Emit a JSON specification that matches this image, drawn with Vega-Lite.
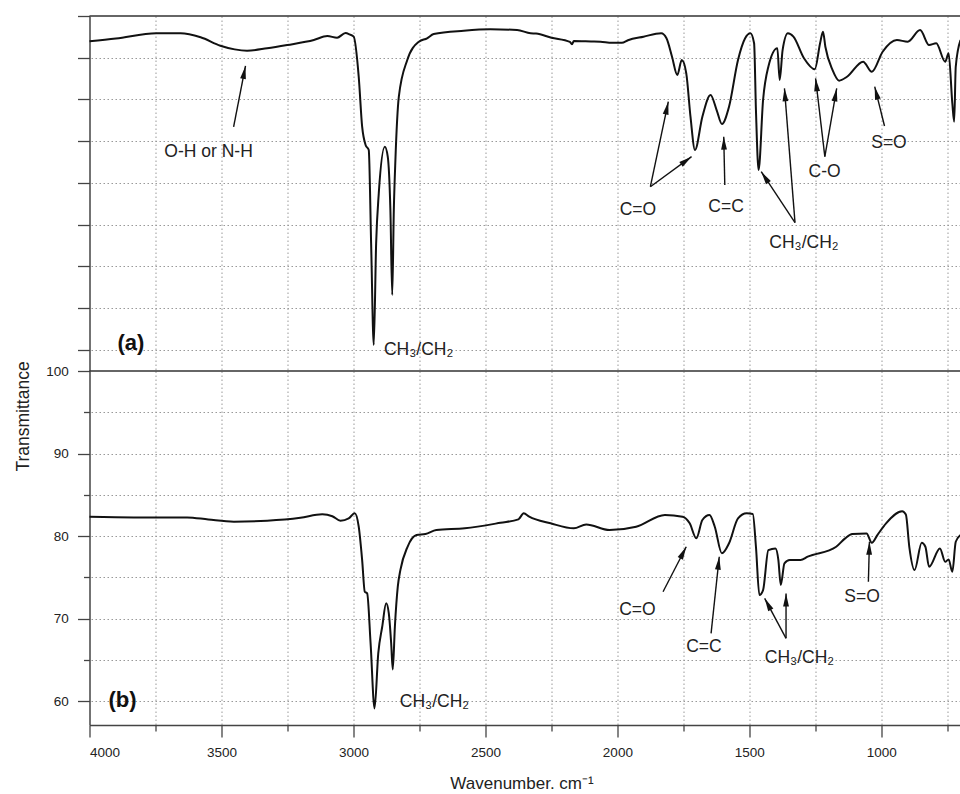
{
  "$schema": "https://vega.github.io/schema/vega-lite/v6.json",
  "background": "white",
  "padding": {"left": 14.5, "top": 15, "right": 0, "bottom": 0},
  "bounds": "flush",
  "spacing": 0,
  "config": {
    "font": "Liberation Sans",
    "view": {"stroke": null},
    "axis": {
      "domainColor": "#444",
      "domainWidth": 1.5,
      "tickColor": "#444",
      "tickWidth": 1.3,
      "gridColor": "#999",
      "gridDash": [1.5, 2.5],
      "gridWidth": 1,
      "labelColor": "#222",
      "labelFontSize": 13.5,
      "labelFont": "Liberation Sans",
      "titleFont": "Liberation Sans",
      "titleColor": "#222",
      "titleFontWeight": "normal"
    }
  },
  "datasets": {
    "specA": [
      {"wn": 4000, "t": 96.97}, {"wn": 3900, "t": 97.3}, {"wn": 3747, "t": 97.93}, {"wn": 3655, "t": 97.93},
      {"wn": 3579, "t": 97.45}, {"wn": 3504, "t": 96.44}, {"wn": 3450, "t": 96.0}, {"wn": 3403, "t": 95.84},
      {"wn": 3327, "t": 96.13}, {"wn": 3251, "t": 96.52}, {"wn": 3150, "t": 97.12}, {"wn": 3099, "t": 97.6},
      {"wn": 3062, "t": 97.4}, {"wn": 3030, "t": 97.95}, {"wn": 3015, "t": 97.8}, {"wn": 2999, "t": 97.52},
      {"wn": 2980, "t": 92.72}, {"wn": 2967, "t": 86.73}, {"wn": 2954, "t": 84.54}, {"wn": 2942, "t": 83.94},
      {"wn": 2933, "t": 72.75}, {"wn": 2923, "t": 60.57}, {"wn": 2914, "t": 72.75}, {"wn": 2904, "t": 78.75},
      {"wn": 2881, "t": 84.33}, {"wn": 2870, "t": 83.14}, {"wn": 2860, "t": 76.75}, {"wn": 2853, "t": 66.56},
      {"wn": 2847, "t": 76.75}, {"wn": 2841, "t": 82.74}, {"wn": 2828, "t": 90.33}, {"wn": 2796, "t": 94.73},
      {"wn": 2752, "t": 96.92}, {"wn": 2721, "t": 97.33}, {"wn": 2696, "t": 97.84}, {"wn": 2582, "t": 98.24},
      {"wn": 2481, "t": 98.41}, {"wn": 2380, "t": 98.32}, {"wn": 2329, "t": 97.93}, {"wn": 2308, "t": 97.9},
      {"wn": 2250, "t": 97.4}, {"wn": 2180, "t": 96.9}, {"wn": 2172, "t": 96.6}, {"wn": 2165, "t": 97.0},
      {"wn": 2100, "t": 96.95}, {"wn": 2064, "t": 96.92}, {"wn": 2020, "t": 96.8}, {"wn": 1983, "t": 96.8},
      {"wn": 1960, "t": 97.1}, {"wn": 1901, "t": 97.52}, {"wn": 1834, "t": 97.93}, {"wn": 1814, "t": 97.33},
      {"wn": 1793, "t": 95.12}, {"wn": 1773, "t": 92.93}, {"wn": 1756, "t": 94.73}, {"wn": 1739, "t": 93.13},
      {"wn": 1723, "t": 87.93}, {"wn": 1706, "t": 83.94}, {"wn": 1678, "t": 87.93}, {"wn": 1647, "t": 90.53},
      {"wn": 1624, "t": 88.73}, {"wn": 1604, "t": 87.06}, {"wn": 1577, "t": 89.13}, {"wn": 1543, "t": 94.73},
      {"wn": 1516, "t": 97.33}, {"wn": 1496, "t": 97.93}, {"wn": 1482, "t": 96.73}, {"wn": 1475, "t": 88.73},
      {"wn": 1465, "t": 81.54}, {"wn": 1448, "t": 89.93}, {"wn": 1428, "t": 93.92}, {"wn": 1394, "t": 96.13},
      {"wn": 1385, "t": 92.33}, {"wn": 1374, "t": 95.92}, {"wn": 1354, "t": 97.93}, {"wn": 1333, "t": 97.52},
      {"wn": 1293, "t": 94.93}, {"wn": 1252, "t": 93.61}, {"wn": 1232, "t": 96.73}, {"wn": 1221, "t": 98.12},
      {"wn": 1212, "t": 96.32}, {"wn": 1185, "t": 93.53}, {"wn": 1160, "t": 92.25}, {"wn": 1130, "t": 92.72},
      {"wn": 1069, "t": 94.52}, {"wn": 1036, "t": 93.32}, {"wn": 995, "t": 95.72}, {"wn": 941, "t": 97.12},
      {"wn": 900, "t": 96.92}, {"wn": 853, "t": 98.32}, {"wn": 819, "t": 96.52}, {"wn": 792, "t": 96.73},
      {"wn": 758, "t": 94.52}, {"wn": 745, "t": 95.53}, {"wn": 731, "t": 89.54}, {"wn": 724, "t": 87.33},
      {"wn": 718, "t": 93.92}, {"wn": 700, "t": 97.12}
    ],
    "specB": [
      {"wn": 4000, "t": 82.34}, {"wn": 3832, "t": 82.26}, {"wn": 3630, "t": 82.26}, {"wn": 3550, "t": 82.0},
      {"wn": 3453, "t": 81.74}, {"wn": 3327, "t": 81.86}, {"wn": 3201, "t": 82.22}, {"wn": 3118, "t": 82.63},
      {"wn": 3080, "t": 82.4}, {"wn": 3049, "t": 81.86}, {"wn": 3018, "t": 82.14}, {"wn": 2995, "t": 82.75},
      {"wn": 2980, "t": 81.13}, {"wn": 2967, "t": 77.09}, {"wn": 2957, "t": 73.25}, {"wn": 2948, "t": 73.05},
      {"wn": 2935, "t": 66.99}, {"wn": 2920, "t": 59.11}, {"wn": 2906, "t": 65.78}, {"wn": 2891, "t": 69.01},
      {"wn": 2876, "t": 71.84}, {"wn": 2866, "t": 70.63}, {"wn": 2857, "t": 66.99}, {"wn": 2851, "t": 63.84},
      {"wn": 2843, "t": 69.01}, {"wn": 2832, "t": 73.86}, {"wn": 2822, "t": 75.9}, {"wn": 2795, "t": 78.7},
      {"wn": 2761, "t": 80.12}, {"wn": 2727, "t": 80.24}, {"wn": 2686, "t": 80.73}, {"wn": 2578, "t": 80.93},
      {"wn": 2443, "t": 81.61}, {"wn": 2375, "t": 82.02}, {"wn": 2355, "t": 82.75}, {"wn": 2334, "t": 82.34},
      {"wn": 2253, "t": 81.54}, {"wn": 2165, "t": 80.93}, {"wn": 2118, "t": 81.41}, {"wn": 2030, "t": 80.73},
      {"wn": 1929, "t": 81.13}, {"wn": 1820, "t": 82.55}, {"wn": 1753, "t": 82.34}, {"wn": 1726, "t": 81.54},
      {"wn": 1701, "t": 79.72}, {"wn": 1678, "t": 81.94}, {"wn": 1651, "t": 82.55}, {"wn": 1631, "t": 81.13},
      {"wn": 1604, "t": 77.9}, {"wn": 1577, "t": 79.12}, {"wn": 1543, "t": 82.14}, {"wn": 1510, "t": 82.75},
      {"wn": 1487, "t": 82.67}, {"wn": 1475, "t": 78.7}, {"wn": 1462, "t": 72.85}, {"wn": 1448, "t": 73.45},
      {"wn": 1428, "t": 78.3}, {"wn": 1401, "t": 78.5}, {"wn": 1390, "t": 77.09}, {"wn": 1381, "t": 74.06},
      {"wn": 1367, "t": 76.69}, {"wn": 1347, "t": 77.09}, {"wn": 1306, "t": 77.09}, {"wn": 1279, "t": 77.5},
      {"wn": 1171, "t": 78.7}, {"wn": 1137, "t": 79.72}, {"wn": 1110, "t": 80.24}, {"wn": 1056, "t": 80.32},
      {"wn": 1036, "t": 79.19}, {"wn": 1015, "t": 80.12}, {"wn": 982, "t": 81.54}, {"wn": 921, "t": 83.0},
      {"wn": 907, "t": 82.6}, {"wn": 894, "t": 78.7}, {"wn": 874, "t": 75.88}, {"wn": 847, "t": 79.19},
      {"wn": 833, "t": 78.7}, {"wn": 819, "t": 76.28}, {"wn": 778, "t": 78.5}, {"wn": 758, "t": 76.88},
      {"wn": 745, "t": 77.17}, {"wn": 731, "t": 75.67}, {"wn": 718, "t": 79.31}, {"wn": 700, "t": 80.12}
    ],
    "arrA": [
      {"tx": 3454, "ty": 86.70, "hx": 3409, "hy": 94.01},
      {"tx": 1875, "ty": 79.54, "hx": 1807, "hy": 89.73},
      {"tx": 1875, "ty": 79.54, "hx": 1719, "hy": 83.14},
      {"tx": 1593, "ty": 79.74, "hx": 1597, "hy": 85.54},
      {"tx": 1327, "ty": 75.23, "hx": 1455, "hy": 81.34},
      {"tx": 1327, "ty": 75.23, "hx": 1367, "hy": 91.33},
      {"tx": 1214, "ty": 83.14, "hx": 1249, "hy": 92.53},
      {"tx": 1214, "ty": 83.14, "hx": 1169, "hy": 91.33},
      {"tx": 988, "ty": 86.82, "hx": 1025, "hy": 91.53}
    ],
    "arrB": [
      {"tx": 1827, "ty": 73.25, "hx": 1739, "hy": 78.70},
      {"tx": 1645, "ty": 68.2, "hx": 1614, "hy": 77.49},
      {"tx": 1361, "ty": 67.6, "hx": 1442, "hy": 72.45},
      {"tx": 1361, "ty": 67.6, "hx": 1361, "hy": 73.05},
      {"tx": 1049, "ty": 74.46, "hx": 1045, "hy": 79.31}
    ],
    "labA": [
      {"wn": 3549, "t": 83.66, "label": "O-H or N-H"},
      {"wn": 2753, "t": 59.97, "label": "CH₃/CH₂"},
      {"wn": 1922, "t": 76.75, "label": "C=O"},
      {"wn": 1588, "t": 77.14, "label": "C=C"},
      {"wn": 1293, "t": 72.8, "label": "CH₃/CH₂"},
      {"wn": 1215, "t": 81.34, "label": "C-O"},
      {"wn": 971, "t": 84.74, "label": "S=O"}
    ],
    "labB": [
      {"wn": 2693, "t": 59.9, "label": "CH₃/CH₂"},
      {"wn": 1924, "t": 71.03, "label": "C=O"},
      {"wn": 1672, "t": 66.58, "label": "C=C"},
      {"wn": 1310, "t": 65.17, "label": "CH₃/CH₂"},
      {"wn": 1073, "t": 72.64, "label": "S=O"}
    ],
    "tagA": [{"wn": 3843, "t": 60.77, "label": "(a)"}],
    "tagB": [{"wn": 3875, "t": 60.12, "label": "(b)"}],
    "frame": [{"t": 100}]
  },
  "resolve": {"scale": {"x": "independent", "y": "independent"}},
  "vconcat": [
    {
      "width": 871,
      "height": 355,
      "layer": [
        {
          "data": {"name": "specA"},
          "mark": {"type": "line", "color": "#111", "strokeWidth": 2, "strokeJoin": "round", "interpolate": "monotone"},
          "encoding": {
            "x": {
              "field": "wn", "type": "quantitative",
              "scale": {"domain": [700, 4000], "reverse": true, "nice": false, "zero": false},
              "axis": {"orient": "bottom", "values": [3750, 3500, 3250, 3000, 2750, 2500, 2250, 2000, 1750, 1500, 1250, 1000, 750],
                       "grid": true, "domain": false, "ticks": false, "labels": false, "title": null}
            },
            "y": {
              "field": "t", "type": "quantitative",
              "scale": {"domain": [57.45, 100], "nice": false, "zero": false},
              "axis": {"values": [60, 65, 70, 75, 80, 85, 90, 95, 100], "labels": false, "tickSize": 12,
                       "grid": true, "gridOpacity": {"condition": {"test": "datum.value >= 100", "value": 0}, "value": 1},
                       "title": null}
            }
          }
        },
        {
          "data": {"name": "frame"},
          "mark": {"type": "rule", "color": "#333", "strokeWidth": 1.5},
          "encoding": {"y": {"field": "t", "type": "quantitative"}}
        },
        {
          "data": {"name": "arrA"},
          "mark": {"type": "rule", "color": "#111", "strokeWidth": 1.4},
          "encoding": {
            "x": {"field": "tx", "type": "quantitative"},
            "y": {"field": "ty", "type": "quantitative"},
            "x2": {"field": "hx"},
            "y2": {"field": "hy"}
          }
        },
        {
          "data": {"name": "arrA"},
          "transform": [{"calculate": "atan2(-(datum.hx - datum.tx) * 0.264, (datum.hy - datum.ty) * 8.34) * 180 / PI", "as": "ang"}],
          "mark": {"type": "point", "shape": "M0,0L0.45,2L-0.45,2Z", "filled": true, "size": 169, "color": "#111", "opacity": 1},
          "encoding": {
            "x": {"field": "hx", "type": "quantitative"},
            "y": {"field": "hy", "type": "quantitative"},
            "angle": {"field": "ang", "type": "quantitative", "scale": null}
          }
        },
        {
          "data": {"name": "labA"},
          "mark": {"type": "text", "fontSize": 17.5, "color": "#222", "align": "center", "baseline": "middle"},
          "encoding": {
            "x": {"field": "wn", "type": "quantitative"},
            "y": {"field": "t", "type": "quantitative"},
            "text": {"field": "label"}
          }
        },
        {
          "data": {"name": "tagA"},
          "mark": {"type": "text", "fontSize": 22, "fontWeight": "bold", "color": "#111", "align": "center", "baseline": "middle"},
          "encoding": {
            "x": {"field": "wn", "type": "quantitative"},
            "y": {"field": "t", "type": "quantitative"},
            "text": {"field": "label"}
          }
        }
      ]
    },
    {
      "width": 871,
      "height": 354,
      "layer": [
        {
          "data": {"name": "specB"},
          "mark": {"type": "line", "color": "#111", "strokeWidth": 2, "strokeJoin": "round", "interpolate": "monotone"},
          "encoding": {
            "x": {
              "field": "wn", "type": "quantitative",
              "scale": {"domain": [700, 4000], "reverse": true, "nice": false, "zero": false},
              "axis": {"orient": "bottom", "values": [4000, 3750, 3500, 3250, 3000, 2750, 2500, 2250, 2000, 1750, 1500, 1250, 1000, 750],
                       "format": "d",
                       "labelExpr": "datum.value % 500 === 0 ? datum.label : ''",
                       "tickSize": {"condition": {"test": "datum.value % 500 !== 0", "value": 6}, "value": 12},
                       "labelPadding": 8.5,
                       "grid": true, "gridOpacity": {"condition": {"test": "datum.value >= 4000", "value": 0}, "value": 1},
                       "title": "Wavenumber. cm⁻¹", "titleFontSize": 17, "titleX": 432, "titleY": 63.5,
                       "titleAlign": "center", "titleBaseline": "alphabetic"}
            },
            "y": {
              "field": "t", "type": "quantitative",
              "scale": {"domain": [57.1, 100], "nice": false, "zero": false},
              "axis": {"values": [60, 65, 70, 75, 80, 85, 90, 95, 100],
                       "labelExpr": "datum.value % 10 === 0 ? datum.label : ''",
                       "tickSize": {"condition": {"test": "datum.value % 10 !== 0", "value": 6}, "value": 12},
                       "labelPadding": 9.3,
                       "grid": true, "gridOpacity": {"condition": {"test": "datum.value >= 100", "value": 0}, "value": 1},
                       "title": "Transmittance", "titleFontSize": 17.5, "titleAngle": -90, "titleX": -60.7, "titleY": 45,
                       "titleAlign": "center", "titleBaseline": "alphabetic"}
            }
          }
        },
        {
          "data": {"name": "frame"},
          "mark": {"type": "rule", "color": "#333", "strokeWidth": 1.5},
          "encoding": {"y": {"field": "t", "type": "quantitative"}}
        },
        {
          "data": {"name": "arrB"},
          "mark": {"type": "rule", "color": "#111", "strokeWidth": 1.4},
          "encoding": {
            "x": {"field": "tx", "type": "quantitative"},
            "y": {"field": "ty", "type": "quantitative"},
            "x2": {"field": "hx"},
            "y2": {"field": "hy"}
          }
        },
        {
          "data": {"name": "arrB"},
          "transform": [{"calculate": "atan2(-(datum.hx - datum.tx) * 0.264, (datum.hy - datum.ty) * 8.25) * 180 / PI", "as": "ang"}],
          "mark": {"type": "point", "shape": "M0,0L0.45,2L-0.45,2Z", "filled": true, "size": 169, "color": "#111", "opacity": 1},
          "encoding": {
            "x": {"field": "hx", "type": "quantitative"},
            "y": {"field": "hy", "type": "quantitative"},
            "angle": {"field": "ang", "type": "quantitative", "scale": null}
          }
        },
        {
          "data": {"name": "labB"},
          "mark": {"type": "text", "fontSize": 17.5, "color": "#222", "align": "center", "baseline": "middle"},
          "encoding": {
            "x": {"field": "wn", "type": "quantitative"},
            "y": {"field": "t", "type": "quantitative"},
            "text": {"field": "label"}
          }
        },
        {
          "data": {"name": "tagB"},
          "mark": {"type": "text", "fontSize": 22, "fontWeight": "bold", "color": "#111", "align": "center", "baseline": "middle"},
          "encoding": {
            "x": {"field": "wn", "type": "quantitative"},
            "y": {"field": "t", "type": "quantitative"},
            "text": {"field": "label"}
          }
        }
      ]
    }
  ]
}
